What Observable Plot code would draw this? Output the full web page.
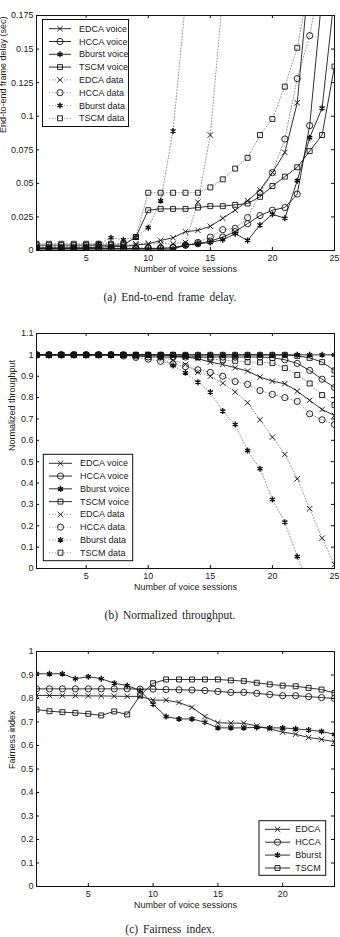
<!DOCTYPE html>
<html>
<head>
<meta charset="utf-8">
<script src="https://cdn.jsdelivr.net/npm/d3@7"></script>
<script src="https://cdn.jsdelivr.net/npm/@observablehq/plot@0.6"></script>
<style>
  body { margin: 0; background: #fff; width: 340px; height: 937px; position: relative; overflow: hidden; }
  .fig { position: absolute; left: 0; width: 340px; }
  .cap { position: absolute; left: 0; width: 340px; text-align: center; line-height: 12px;
         font-family: "Liberation Serif", "Times New Roman", serif; font-size: 11.5px; word-spacing: 2px; color: #222; }
</style>
</head>
<body>
<div id="figA" class="fig" style="top:0px"></div>
<div class="cap" style="top:291px">(a) End-to-end frame delay.</div>
<div id="figB" class="fig" style="top:318px"></div>
<div class="cap" style="top:609px">(b) Normalized throughput.</div>
<div id="figC" class="fig" style="top:636px"></div>
<div class="cap" style="top:923px">(c) Fairness index.</div>
<script>
// Number of voice sessions (x positions)
const sessions = [1, 2, 3, 4, 5, 6, 7, 8, 9, 10, 11, 12, 13, 14, 15, 16, 17, 18, 19, 20, 21, 22, 23, 24, 25];

// (a) End-to-end frame delay, seconds
const edcaVoiceDelay = [0.002, 0.002, 0.002, 0.002, 0.002, 0.0025, 0.003, 0.003, 0.004, 0.005, 0.0075, 0.0095, 0.014, 0.015, 0.018, 0.024, 0.030, 0.037, 0.045, 0.058, 0.073, 0.110, 0.21];
const hccaVoiceDelay = [0.0015, 0.0015, 0.0015, 0.0015, 0.0015, 0.0015, 0.0015, 0.0015, 0.0015, 0.0015, 0.0015, 0.002, 0.004, 0.005, 0.007, 0.010, 0.014, 0.020, 0.026, 0.030, 0.032, 0.042, 0.093, 0.19];
const bburstVoiceDelay = [0.001, 0.001, 0.001, 0.001, 0.001, 0.001, 0.001, 0.001, 0.001, 0.001, 0.001, 0.001, 0.004, 0.005, 0.006, 0.008, 0.0125, 0.0075, 0.019, 0.027, 0.024, 0.052, 0.084, 0.106, 0.19];
const tscmVoiceDelay = [0.004, 0.004, 0.004, 0.004, 0.004, 0.004, 0.004, 0.004, 0.010, 0.030, 0.031, 0.031, 0.031, 0.032, 0.033, 0.033, 0.034, 0.035, 0.040, 0.048, 0.055, 0.062, 0.074, 0.086, 0.137];
const edcaDataDelay = [0.003, 0.003, 0.003, 0.003, 0.003, 0.0035, 0.004, 0.004, 0.005, 0.005, 0.005, 0.005, 0.006, 0.036, 0.086, 0.19];
const hccaDataDelay = [0.002, 0.002, 0.002, 0.002, 0.002, 0.002, 0.002, 0.002, 0.002, 0.002, 0.002, 0.0025, 0.004, 0.006, 0.010, 0.0155, 0.0165, 0.0245, 0.043, 0.058, 0.083, 0.128, 0.160, 0.21];
const bburstDataDelay = [0.002, 0.002, 0.002, 0.002, 0.003, 0.005, 0.0095, 0.008, 0.010, 0.017, 0.037, 0.089, 0.185];
const tscmDataDelay = [0.005, 0.005, 0.005, 0.005, 0.005, 0.005, 0.005, 0.005, 0.010, 0.043, 0.043, 0.043, 0.043, 0.043, 0.047, 0.053, 0.061, 0.069, 0.086, 0.098, 0.122, 0.151, 0.20];

// (b) Normalized throughput
const edcaVoiceThr = [1, 1, 1, 1, 1, 1, 1, 1, 1, 1, 1, 0.995, 0.99, 0.982, 0.966, 0.955, 0.94, 0.924, 0.896, 0.877, 0.865, 0.83, 0.787, 0.744, 0.716];
const hccaVoiceThr = [1, 1, 1, 1, 1, 1, 1, 1, 0.995, 0.99, 0.99, 0.99, 0.99, 0.99, 0.99, 0.99, 0.99, 0.99, 0.99, 0.987, 0.977, 0.96, 0.927, 0.886, 0.847];
const bburstVoiceThr = [1, 1, 1, 1, 1, 1, 1, 1, 1, 1, 1, 1, 1, 1, 1, 1, 1, 1, 1, 1, 1, 1, 1, 1, 1];
const tscmVoiceThr = [1, 1, 1, 1, 1, 1, 1, 1, 1, 1, 1, 1, 1, 1, 1, 1, 1, 1, 1, 1, 1, 0.995, 0.986, 0.966, 0.927];
const edcaDataThr = [1, 1, 1, 1, 1, 1, 1, 1, 1, 1, 0.99, 0.975, 0.955, 0.919, 0.9, 0.868, 0.826, 0.776, 0.696, 0.615, 0.534, 0.42, 0.28, 0.142, 0.019];
const hccaDataThr = [1, 1, 1, 1, 1, 1, 1, 0.995, 0.988, 0.98, 0.97, 0.958, 0.945, 0.93, 0.918, 0.9, 0.875, 0.862, 0.833, 0.815, 0.8, 0.782, 0.724, 0.696, 0.674];
const bburstDataThr = [1, 1, 1, 1, 1, 1, 1, 1, 1, 1, 0.99, 0.95, 0.916, 0.872, 0.826, 0.737, 0.674, 0.552, 0.467, 0.323, 0.217, 0.056, -0.08];
const tscmDataThr = [1, 1, 1, 1, 1, 1, 1, 1, 1, 1, 1, 1, 0.995, 0.99, 0.982, 0.975, 0.972, 0.967, 0.965, 0.962, 0.938, 0.906, 0.866, 0.812, 0.766];

// (c) Fairness index
const edcaFair = [0.813, 0.813, 0.812, 0.812, 0.811, 0.811, 0.81, 0.809, 0.809, 0.793, 0.793, 0.783, 0.762, 0.723, 0.697, 0.695, 0.695, 0.683, 0.671, 0.657, 0.648, 0.634, 0.626, 0.616];
const hccaFair = [0.841, 0.841, 0.841, 0.841, 0.841, 0.841, 0.841, 0.841, 0.84, 0.84, 0.838, 0.837, 0.836, 0.834, 0.83, 0.826, 0.826, 0.822, 0.817, 0.812, 0.812, 0.808, 0.804, 0.8];
const bburstFair = [0.905, 0.905, 0.905, 0.884, 0.893, 0.884, 0.865, 0.855, 0.834, 0.776, 0.723, 0.713, 0.713, 0.699, 0.675, 0.675, 0.675, 0.677, 0.675, 0.675, 0.671, 0.666, 0.66, 0.647];
const tscmFair = [0.753, 0.746, 0.742, 0.739, 0.735, 0.728, 0.745, 0.732, 0.813, 0.865, 0.881, 0.881, 0.881, 0.881, 0.881, 0.877, 0.874, 0.867, 0.86, 0.855, 0.852, 0.845, 0.838, 0.824];

// Tick values and labels
const xTicksAB = [5, 10, 15, 20, 25];
const xTicksC = [5, 10, 15, 20];
const yTicksA = [0, 0.025, 0.05, 0.075, 0.1, 0.125, 0.15, 0.175];
const yTicksB = [0, 0.1, 0.2, 0.3, 0.4, 0.5, 0.6, 0.7, 0.8, 0.9, 1, 1.1];
const yTicksC = [0, 0.1, 0.2, 0.3, 0.4, 0.5, 0.6, 0.7, 0.8, 0.9, 1];

const FONT = "'Liberation Sans', Arial, Helvetica, sans-serif";
const W = 340, H = 280, ML = 36, MR = 6, MT = 15, MB = 30;
const PW = W - ML - MR, PH = H - MT - MB, TICK = 3;

const symbolOf = {EDCA: "times", HCCA: "circle", Bburst: "asterisk", TSCM: "square"};
const d3SymbolOf = {EDCA: d3.symbolTimes, HCCA: d3.symbolCircle, Bburst: d3.symbolAsterisk, TSCM: d3.symbolSquare};
const radiusOf = {EDCA: 2.6, HCCA: 3.1, Bburst: 2.8, TSCM: 2.8};

const voiceStyle = {stroke: "#1a1a1a", strokeWidth: 0.9};
const dataStyle = {stroke: "#8a8a8a", strokeWidth: 0.9, strokeDasharray: "1,2"};

function rows(values) {
  return values.map((v, i) => ({n: sessions[i], v}));
}

function seriesMarks(values, scheme, style) {
  const data = rows(values);
  return [
    Plot.line(data, {x: "n", y: "v", ...style, clip: true}),
    Plot.dot(data, {x: "n", y: "v", symbol: symbolOf[scheme], r: radiusOf[scheme], stroke: "#111",
                    fill: "none", strokeWidth: scheme === "Bburst" ? 1.4 : 0.9, clip: true})
  ];
}

function frameMarks(xTicks, yTicks, yLabel, yLabelDx) {
  return [
    Plot.frame({stroke: "#111", strokeWidth: 1}),
    Plot.tickX(xTicks, {x: d => d, insetTop: PH - TICK, stroke: "#111"}),
    Plot.tickX(xTicks, {x: d => d, insetBottom: PH - TICK, stroke: "#111"}),
    Plot.tickY(yTicks, {y: d => d, insetRight: PW - TICK, stroke: "#111"}),
    Plot.tickY(yTicks, {y: d => d, insetLeft: PW - TICK, stroke: "#111"}),
    Plot.axisX(xTicks, {tickSize: 0, tickPadding: 4, label: null, fill: "#222"}),
    Plot.axisY(yTicks, {tickSize: 0, tickPadding: 3, label: null, tickFormat: d => `${d}`, fill: "#222"}),
    Plot.text(["Number of voice sessions"], {frameAnchor: "bottom", lineAnchor: "middle", dy: 19, fill: "#222"}),
    Plot.text([yLabel], {frameAnchor: "left", lineAnchor: "middle", dx: yLabelDx, rotate: -90, fill: "#222"})
  ];
}

function makePlot(xDomain, yDomain, marks) {
  return Plot.plot({
    width: W, height: H,
    marginLeft: ML, marginRight: MR, marginTop: MT, marginBottom: MB,
    style: {fontFamily: FONT, fontSize: "9px", background: "transparent", overflow: "visible"},
    x: {domain: xDomain},
    y: {domain: yDomain},
    marks
  });
}

// Boxed legend drawn inside the plot frame
function addLegend(svg, entries, box) {
  const g = d3.select(svg).append("g").attr("font-family", FONT).attr("font-size", 9);
  g.append("rect").attr("x", box.x).attr("y", box.y).attr("width", box.w).attr("height", box.h)
    .attr("fill", "#fff").attr("stroke", "#111").attr("stroke-width", 1);
  entries.forEach((e, i) => {
    const y = box.y0 + i * box.step;
    const st = e.kind === "voice" ? voiceStyle : dataStyle;
    g.append("line").attr("x1", box.lx1).attr("x2", box.lx2).attr("y1", y).attr("y2", y)
      .attr("stroke", st.stroke).attr("stroke-width", st.strokeWidth)
      .attr("stroke-dasharray", st.strokeDasharray || null);
    const r = radiusOf[e.scheme];
    g.append("path").attr("transform", `translate(${(box.lx1 + box.lx2) / 2},${y})`)
      .attr("d", d3.symbol(d3SymbolOf[e.scheme], Math.PI * r * r)())
      .attr("fill", "none").attr("stroke", "#111")
      .attr("stroke-width", e.scheme === "Bburst" ? 1.4 : 0.9);
    g.append("text").attr("x", box.tx).attr("y", y).attr("dy", "0.34em")
      .attr("text-anchor", "start").attr("fill", "#222").text(e.label);
  });
}

const fullEntries = [
  {label: "EDCA voice", scheme: "EDCA", kind: "voice"},
  {label: "HCCA voice", scheme: "HCCA", kind: "voice"},
  {label: "Bburst voice", scheme: "Bburst", kind: "voice"},
  {label: "TSCM voice", scheme: "TSCM", kind: "voice"},
  {label: "EDCA data", scheme: "EDCA", kind: "data"},
  {label: "HCCA data", scheme: "HCCA", kind: "data"},
  {label: "Bburst data", scheme: "Bburst", kind: "data"},
  {label: "TSCM data", scheme: "TSCM", kind: "data"}
];

// (a) End-to-end frame delay
const plotA = makePlot([1, 25], [0, 0.175], [
  ...seriesMarks(edcaDataDelay, "EDCA", dataStyle),
  ...seriesMarks(hccaDataDelay, "HCCA", dataStyle),
  ...seriesMarks(bburstDataDelay, "Bburst", dataStyle),
  ...seriesMarks(tscmDataDelay, "TSCM", dataStyle),
  ...seriesMarks(edcaVoiceDelay, "EDCA", voiceStyle),
  ...seriesMarks(hccaVoiceDelay, "HCCA", voiceStyle),
  ...seriesMarks(bburstVoiceDelay, "Bburst", voiceStyle),
  ...seriesMarks(tscmVoiceDelay, "TSCM", voiceStyle),
  ...frameMarks(xTicksAB, yTicksA, "End-to-end frame delay (sec)", -33)
]);
addLegend(plotA, fullEntries, {x: 42.5, y: 19.5, w: 86, h: 107, y0: 28.7, step: 12.8, lx1: 49, lx2: 71, tx: 79});
document.getElementById("figA").appendChild(plotA);

// (b) Normalized throughput
const plotB = makePlot([1, 25], [0, 1.1], [
  ...seriesMarks(edcaDataThr, "EDCA", dataStyle),
  ...seriesMarks(hccaDataThr, "HCCA", dataStyle),
  ...seriesMarks(bburstDataThr, "Bburst", dataStyle),
  ...seriesMarks(tscmDataThr, "TSCM", dataStyle),
  ...seriesMarks(edcaVoiceThr, "EDCA", voiceStyle),
  ...seriesMarks(hccaVoiceThr, "HCCA", voiceStyle),
  ...seriesMarks(bburstVoiceThr, "Bburst", voiceStyle),
  ...seriesMarks(tscmVoiceThr, "TSCM", voiceStyle),
  ...frameMarks(xTicksAB, yTicksB, "Normalized throughput", -24)
]);
addLegend(plotB, fullEntries, {x: 43.3, y: 136.3, w: 89.4, h: 106.4, y0: 145.3, step: 12.77, lx1: 49, lx2: 72, tx: 80});
document.getElementById("figB").appendChild(plotB);

// (c) Fairness index
const plotC = makePlot([1, 24], [0, 1], [
  ...seriesMarks(edcaFair, "EDCA", voiceStyle),
  ...seriesMarks(hccaFair, "HCCA", voiceStyle),
  ...seriesMarks(bburstFair, "Bburst", voiceStyle),
  ...seriesMarks(tscmFair, "TSCM", voiceStyle),
  ...frameMarks(xTicksC, yTicksC, "Fairness index", -24)
]);
addLegend(plotC, [
  {label: "EDCA", scheme: "EDCA", kind: "voice"},
  {label: "HCCA", scheme: "HCCA", kind: "voice"},
  {label: "Bburst", scheme: "Bburst", kind: "voice"},
  {label: "TSCM", scheme: "TSCM", kind: "voice"}
], {x: 259, y: 184.7, w: 66.7, h: 54.6, y0: 193.3, step: 12.9, lx1: 265, lx2: 290, tx: 295.3});
document.getElementById("figC").appendChild(plotC);
</script>
</body>
</html>
